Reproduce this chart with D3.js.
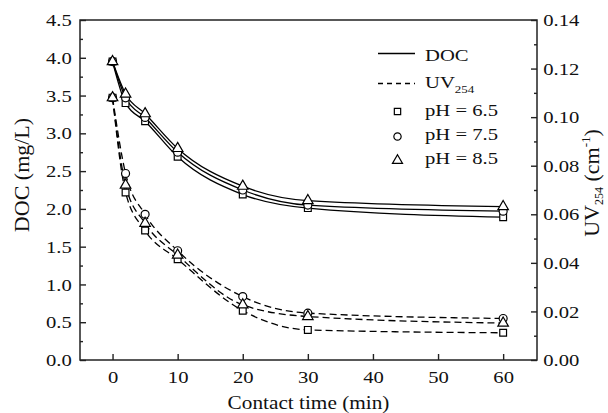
<!DOCTYPE html>
<html>
<head>
<meta charset="utf-8">
<script src="https://cdn.jsdelivr.net/npm/d3@7"></script>
<style>
  html, body { margin: 0; padding: 0; background: #fff; }
  svg { display: block; font-family: "Liberation Serif", "Times New Roman", serif; }
</style>
</head>
<body>
<svg id="chart" width="608" height="413"></svg>
<script>
// ---------- data ----------
const time = [0, 2, 5, 10, 20, 30, 60];
// DOC (mg/L)
const docPH65 = [3.95, 3.40, 3.16, 2.69, 2.19, 2.01, 1.89];
const docPH75 = [3.95, 3.47, 3.21, 2.75, 2.25, 2.05, 1.97];
const docPH85 = [3.95, 3.52, 3.26, 2.80, 2.30, 2.11, 2.03];
// UV254 (cm-1)
const uvPH65 = [0.108, 0.0690, 0.0533, 0.0415, 0.0203, 0.0124, 0.0112];
const uvPH75 = [0.108, 0.0768, 0.0600, 0.0450, 0.0261, 0.0193, 0.0171];
const uvPH85 = [0.108, 0.0720, 0.0563, 0.0432, 0.0227, 0.0179, 0.0152];

const xTicks = [0, 10, 20, 30, 40, 50, 60];
const leftTicks = [0, 0.5, 1.0, 1.5, 2.0, 2.5, 3.0, 3.5, 4.0, 4.5];
const leftMinor = [0.25, 0.75, 1.25, 1.75, 2.25, 2.75, 3.25, 3.75, 4.25];
const rightTicks = [0, 0.02, 0.04, 0.06, 0.08, 0.10, 0.12, 0.14];
const rightMinor = [0.01, 0.03, 0.05, 0.07, 0.09, 0.11, 0.13];

const phLabels = ["pH = 6.5", "pH = 7.5", "pH = 8.5"];
const phSymbols = [d3.symbolSquare, d3.symbolCircle, d3.symbolTriangle];

// ---------- layout ----------
const L = 80, R = 537, T = 20, B = 360;
const SX = 1.18; // horizontal glyph stretch seen in the reference

const svg = d3.select("#chart");
const x = d3.scaleLinear().domain([-5, 65.2]).range([L, R]);
const yL = d3.scaleLinear().domain([0, 4.5]).range([B, T]);
const yR = d3.scaleLinear().domain([0, 0.14]).range([B, T]);

function stretchTexts(sel) {
  sel.selectAll("text").each(function () {
    const t = d3.select(this);
    const xa = +(t.attr("x") || 0);
    t.attr("x", xa / SX).attr("transform", `scale(${SX},1)`);
  });
}

function styleAxis(g) {
  g.attr("font-family", null);
  g.select(".domain").remove();
  g.selectAll(".tick line").attr("stroke", "#222").attr("stroke-width", 1.4);
  g.selectAll("text").attr("font-size", 17.5).attr("fill", "#111");
}

// bottom axis
const gx = svg.append("g").attr("transform", `translate(0,${B})`)
  .call(d3.axisBottom(x).tickValues(xTicks).tickSize(-6).tickSizeOuter(0)
    .tickPadding(11).tickFormat(d3.format("d")));
styleAxis(gx); stretchTexts(gx);

// left axis
const gl = svg.append("g").attr("transform", `translate(${L},0)`)
  .call(d3.axisLeft(yL).tickValues(leftTicks).tickSize(-6).tickSizeOuter(0)
    .tickPadding(8.3).tickFormat(d3.format(".1f")));
styleAxis(gl); stretchTexts(gl);
const glm = svg.append("g").attr("transform", `translate(${L},0)`)
  .call(d3.axisLeft(yL).tickValues(leftMinor).tickSize(-3).tickSizeOuter(0).tickFormat(""));
styleAxis(glm);

// right axis
const gr = svg.append("g").attr("transform", `translate(${R},0)`)
  .call(d3.axisRight(yR).tickValues(rightTicks).tickSize(-6).tickSizeOuter(0)
    .tickPadding(6.3).tickFormat(d3.format(".2f")));
styleAxis(gr); stretchTexts(gr);
const grm = svg.append("g").attr("transform", `translate(${R},0)`)
  .call(d3.axisRight(yR).tickValues(rightMinor).tickSize(-3).tickSizeOuter(0).tickFormat(""));
styleAxis(grm);

// frame
svg.append("rect").attr("x", L).attr("y", T).attr("width", R - L).attr("height", B - T)
  .attr("fill", "none").attr("stroke", "#222").attr("stroke-width", 1.5);

// axis titles
svg.append("g").attr("transform", `translate(${(L + R) / 2},409) scale(1.12,1)`)
  .append("text").attr("text-anchor", "middle").attr("font-size", 19).attr("fill", "#111")
  .text("Contact time (min)");

svg.append("g").attr("transform", `translate(28.5,175) rotate(-90)`)
  .append("text").attr("text-anchor", "middle").attr("font-size", 22).attr("fill", "#111")
  .text("DOC (mg/L)");

const uvTitle = svg.append("g").attr("transform", `translate(599,183) rotate(-90)`)
  .append("text").attr("text-anchor", "middle").attr("font-size", 22).attr("fill", "#111");
uvTitle.append("tspan").text("UV");
uvTitle.append("tspan").attr("font-size", 12).attr("dy", 4).text("254");
uvTitle.append("tspan").attr("dy", -4).text(" (cm");
uvTitle.append("tspan").attr("font-size", 13).attr("dy", -9).text("-1");
uvTitle.append("tspan").attr("dy", 9).text(")");

// ---------- lines ----------
const docSeries = [docPH65, docPH75, docPH85];
const uvSeries = [uvPH65, uvPH75, uvPH85];

const lineL = d3.line().x((d, i) => x(time[i])).y(d => yL(d)).curve(d3.curveMonotoneX);
const lineR = d3.line().x((d, i) => x(time[i])).y(d => yR(d)).curve(d3.curveMonotoneX);

svg.append("g").selectAll("path").data(docSeries).join("path")
  .attr("d", lineL).attr("fill", "none").attr("stroke", "#000").attr("stroke-width", 1.3);
svg.append("g").selectAll("path").data(uvSeries).join("path")
  .attr("d", lineR).attr("fill", "none").attr("stroke", "#000").attr("stroke-width", 1.3)
  .attr("stroke-dasharray", "7,4");

// ---------- markers ----------
const symSize = [46, 50, 48];
[0, 1, 2].forEach(k => {
  const sym = d3.symbol().type(phSymbols[k]).size(symSize[k]);
  const g = svg.append("g");
  g.selectAll("path.doc").data(docSeries[k]).join("path").attr("class", "doc")
    .attr("d", sym).attr("transform", (d, i) => `translate(${x(time[i])},${yL(d)})`)
    .attr("fill", "#fff").attr("stroke", "#000").attr("stroke-width", 1.2);
  g.selectAll("path.uv").data(uvSeries[k]).join("path").attr("class", "uv")
    .attr("d", sym).attr("transform", (d, i) => `translate(${x(time[i])},${yR(d)})`)
    .attr("fill", "#fff").attr("stroke", "#000").attr("stroke-width", 1.2);
});

// ---------- legend ----------
const lg = svg.append("g");
lg.append("line").attr("x1", 378).attr("x2", 415).attr("y1", 53.5).attr("y2", 53.5)
  .attr("stroke", "#000").attr("stroke-width", 1.3);
lg.append("g").attr("transform", `translate(425,60.5) scale(${SX},1)`)
  .append("text").attr("font-size", 17.5).attr("fill", "#111").text("DOC");

lg.append("line").attr("x1", 378).attr("x2", 415).attr("y1", 83.5).attr("y2", 83.5)
  .attr("stroke", "#000").attr("stroke-width", 1.3).attr("stroke-dasharray", "5,4");
const uvLeg = lg.append("g").attr("transform", `translate(425,87.7) scale(${SX},1)`)
  .append("text").attr("font-size", 17.5).attr("fill", "#111");
uvLeg.append("tspan").text("UV");
uvLeg.append("tspan").attr("font-size", 11).attr("dy", 5.6).text("254");

const legY = [115.7, 140, 164];
const legSymY = [111.5, 136.5, 160.5];
const legSize = [40, 42, 44];
[0, 1, 2].forEach(k => {
  lg.append("path").attr("d", d3.symbol().type(phSymbols[k]).size(legSize[k])())
    .attr("transform", `translate(397.5,${legSymY[k]})`)
    .attr("fill", "#fff").attr("stroke", "#000").attr("stroke-width", 1.2);
  lg.append("g").attr("transform", `translate(425,${legY[k]}) scale(${SX},1)`)
    .append("text").attr("font-size", 17.5).attr("fill", "#111").text(phLabels[k]);
});
</script>
</body>
</html>
